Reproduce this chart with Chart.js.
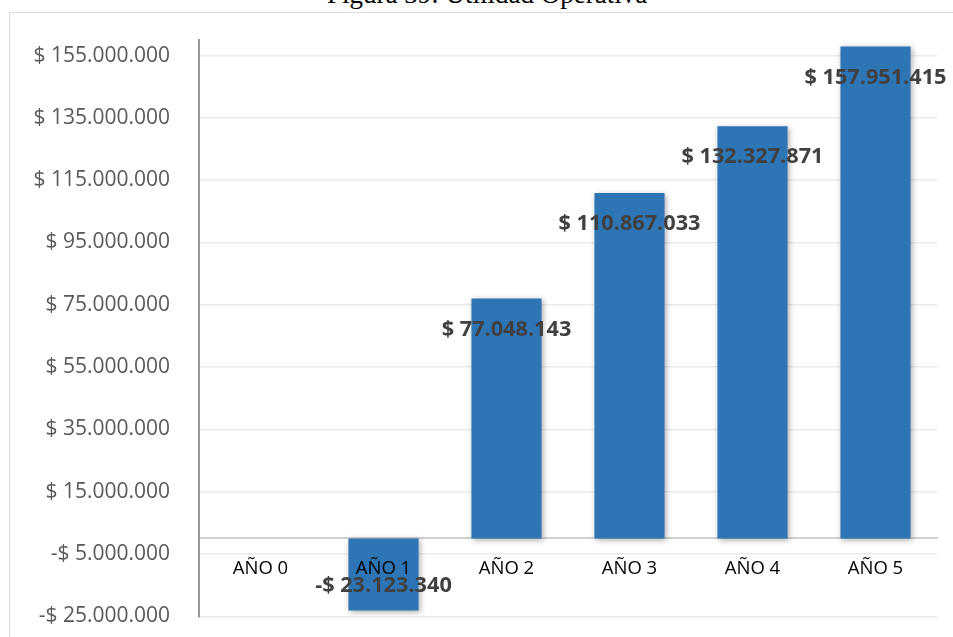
<!DOCTYPE html>
<html>
<head>
<meta charset="utf-8">
<script src="https://cdn.jsdelivr.net/npm/chart.js@4/dist/chart.umd.min.js"></script>
<style>
  html, body { margin: 0; padding: 0; background: #ffffff; overflow: hidden; }
  #wrap { position: relative; width: 953px; height: 637px; }
  #frame { position: absolute; left: 9px; top: 12px; width: 1000px; height: 700px; border: 1px solid #d9d9d9; box-sizing: border-box; }
  #title { position: absolute; left: 327px; top: -18.6px; font-family: "Liberation Serif", "DejaVu Serif", serif; font-size: 27px; line-height: 27px; color: #000; white-space: nowrap; }
  canvas { position: absolute; left: 0; top: 0; }
</style>
</head>
<body>
<div id="wrap">
  <div id="frame"></div>
  <div id="title">Figura 39: Utilidad Operativa</div>
  <canvas id="c" width="953" height="637"></canvas>
</div>
<script>
const categories = ['AÑO 0', 'AÑO 1', 'AÑO 2', 'AÑO 3', 'AÑO 4', 'AÑO 5'];
const utilidad = [0, -23123340, 77048143, 110867033, 132327871, 157951415];
const tickValues = [-25000000, -5000000, 15000000, 35000000, 55000000, 75000000, 95000000, 115000000, 135000000, 155000000];

function fmt(v) {
  const s = Math.abs(Math.round(v)).toString().replace(/\B(?=(\d{3})+(?!\d))/g, '.');
  return (v < 0 ? '-$ ' : '$ ') + s;
}

const shadowPlugin = {
  id: 'barShadow',
  beforeDatasetsDraw(chart) {
    const ctx = chart.ctx;
    ctx.save();
    ctx.shadowColor = 'rgba(0,0,0,0.35)';
    ctx.shadowBlur = 6;
    ctx.shadowOffsetX = 1.5;
    ctx.shadowOffsetY = 2;
  },
  afterDatasetsDraw(chart) {
    chart.ctx.restore();
  }
};

const labelPlugin = {
  id: 'valueLabels',
  afterDraw(chart) {
    const ctx = chart.ctx;
    const meta = chart.getDatasetMeta(0);
    ctx.save();
    ctx.font = 'bold 21.7px "Open Sans", sans-serif';
    ctx.fillStyle = '#404040';
    ctx.textAlign = 'center';
    ctx.textBaseline = 'middle';
    meta.data.forEach((bar, i) => {
      const v = utilidad[i];
      if (!v) return;
      const y = v >= 0 ? bar.y + 31 : bar.y - 25;
      ctx.fillText(fmt(v), bar.x, y);
    });
    ctx.restore();
  }
};

new Chart(document.getElementById('c'), {
  type: 'bar',
  data: {
    labels: categories,
    datasets: [{
      data: utilidad,
      backgroundColor: '#2E75B6',
      borderWidth: 0,
      categoryPercentage: 1.0,
      barPercentage: 0.57
    }]
  },
  options: {
    responsive: false,
    animation: false,
    layout: { padding: { left: 0, right: 16, top: 40, bottom: 20.7 } },
    plugins: { legend: { display: false }, tooltip: { enabled: false }, title: { display: false } },
    scales: {
      x: {
        type: 'category',
        position: { y: 0 },
        afterFit(scale) { scale.height = 0; },
        grid: { display: false, drawTicks: false },
        border: { display: true, color: '#d0d0d0', width: 2 },
        ticks: { z: 1, color: '#000000', font: { family: '"Open Sans", sans-serif', size: 18.5 }, padding: 19, maxRotation: 0, autoSkip: false }
      },
      y: {
        min: -25000000,
        max: 160000000,
        afterBuildTicks(scale) { scale.ticks = tickValues.map(v => ({ value: v })); },
        afterFit(scale) { scale.width = 199; },
        grid: { color: '#ebebeb', lineWidth: 1.5, drawTicks: true, tickLength: 29, tickColor: 'rgba(0,0,0,0)' },
        border: { display: true, color: '#999999', width: 2 },
        ticks: {
          color: '#595959',
          font: { family: '"Open Sans", sans-serif', size: 21 },
          padding: 0,
          callback: (v) => fmt(v)
        }
      }
    }
  },
  plugins: [shadowPlugin, labelPlugin]
});
</script>
</body>
</html>
